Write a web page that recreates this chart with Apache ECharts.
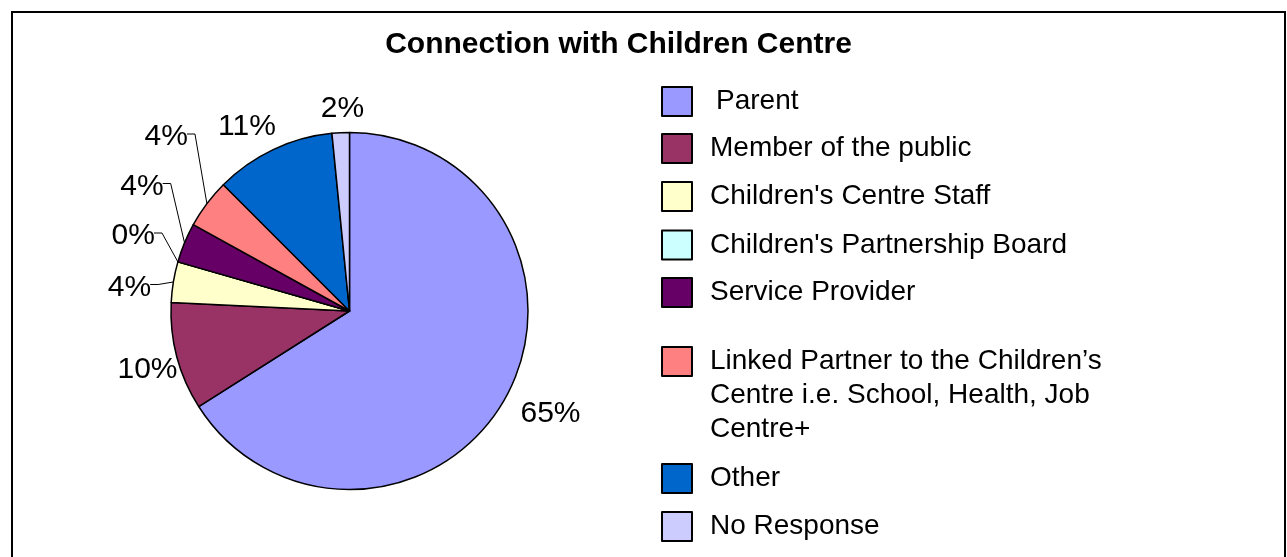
<!DOCTYPE html>
<html>
<head>
<meta charset="utf-8">
<script src="https://cdn.jsdelivr.net/npm/echarts@6/dist/echarts.min.js"></script>
<style>
html,body{margin:0;padding:0;background:#fff;}
#chart{width:1287px;height:557px;}
</style>
</head>
<body>
<div id="chart"></div>
<script>
// ---- data ----
const categories = [
  'Parent',
  'Member of the public',
  "Children's Centre Staff",
  "Children's Partnership Board",
  'Service Provider',
  'Linked Partner to the Children\u2019s\nCentre i.e. School, Health, Job\nCentre+',
  'Other',
  'No Response'
];
const shares = [66.0, 9.75, 3.67, 0, 3.6, 4.47, 10.92, 1.57];
const shareLabels = ['65%', '10%', '4%', '0%', '4%', '4%', '11%', '2%'];
const titleText = 'Connection with Children Centre';

// ---- styles / layout ----
const colors = ['#9999FF', '#993366', '#FFFFCC', '#CCFFFF', '#660066', '#FF8080', '#0066CC', '#CCCCFF'];
const FONT = "'Liberation Sans', Arial, Helvetica, sans-serif";
const CX = 349.5, CY = 311, R = 178.5;
const labelCenters = [[550.5, 414], [147.5, 370], [129.5, 287.5], [133.3, 236], [142, 186.5], [166.3, 137], [247, 126.7], [342.5, 108.3]];
const hasLeader = [false, false, true, true, true, true, false, false];
const legendIconTops = [86, 133, 181, 229.5, 277, 347, 463, 511];
const legendPadLeft = [19, 13, 13, 13, 13, 13, 13, 13];
const LEG_FS = 28, LEG_ICON_H = 29, LEG_MULTI_LH = 34;

// mid angles (radians, clockwise from 12 o'clock) computed from data
const total = shares.reduce((a, b) => a + b, 0);
const midAngles = [];
(function () {
  let acc = 0;
  shares.forEach(v => {
    midAngles.push((acc + v / 2) / total * Math.PI * 2);
    acc += v;
  });
})();

const chart = echarts.init(document.getElementById('chart'), null, {renderer: 'canvas'});

const legends = categories.map((name, i) => {
  const lines = name.split('\n').length;
  const lh = lines > 1 ? LEG_MULTI_LH : LEG_ICON_H;
  // leading blank lines keep the first text line level with the icon
  const lead = lines - 1;
  const boxH = (lines + lead) * lh;
  const offset = lines > 1 ? (boxH / 2 - LEG_ICON_H / 2) : 0;
  return {
    data: [name],
    orient: 'vertical',
    left: 661,
    top: legendIconTops[i] - offset,
    padding: 0,
    itemWidth: 30,
    itemHeight: LEG_ICON_H,
    icon: 'rect',
    selectedMode: false,
    formatter: n => '\n'.repeat(lead) + n,
    textStyle: {
      fontSize: LEG_FS,
      fontFamily: FONT,
      color: '#000',
      lineHeight: lh,
      padding: [0, 0, 0, legendPadLeft[i]]
    }
  };
});

const option = {
  animation: false,
  backgroundColor: '#fff',
  title: {
    text: titleText,
    left: 618.5,
    top: 30,
    padding: 0,
    textAlign: 'center',
    textStyle: {fontSize: 30, fontWeight: 'bold', fontFamily: FONT, color: '#000'}
  },
  legend: legends,
  graphic: [{
    type: 'rect',
    silent: true,
    z: -1,
    shape: {x: 12, y: 12, width: 1273, height: 580},
    style: {fill: 'none', stroke: '#000', lineWidth: 2}
  }],
  series: [{
    type: 'pie',
    center: [CX, CY],
    radius: R,
    startAngle: 90,
    clockwise: true,
    avoidLabelOverlap: false,
    minShowLabelAngle: 0,
    silent: true,
    emphasis: {disabled: true},
    itemStyle: {borderColor: '#000', borderWidth: 1.5},
    label: {
      show: true,
      position: 'outside',
      fontSize: 30,
      fontFamily: FONT,
      color: '#000',
      formatter: p => shareLabels[p.dataIndex]
    },
    labelLine: {
      show: true,
      length: 10,
      length2: 8,
      smooth: false,
      lineStyle: {color: '#000', width: 1}
    },
    labelLayout: function (p) {
      const i = p.dataIndex;
      const c = labelCenters[i];
      const w = p.labelRect.width;
      const out = {x: c[0], y: c[1], align: 'center', verticalAlign: 'middle'};
      if (hasLeader[i]) {
        const right = c[0] + w / 2;
        const ly = c[1] - 3;
        const a = midAngles[i];
        out.labelLinePoints = [[right - 1, ly], [right + 7, ly], [CX + R * Math.sin(a), CY - R * Math.cos(a)]];
      }
      return out;
    },
    data: categories.map((name, i) => ({
      name: name,
      value: shares[i],
      itemStyle: {color: colors[i]},
      labelLine: {show: hasLeader[i]}
    }))
  }]
};

chart.setOption(option);
</script>
</body>
</html>
